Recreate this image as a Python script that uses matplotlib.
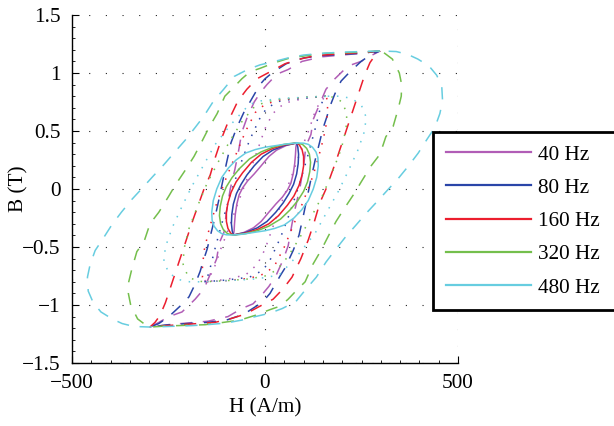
import matplotlib
matplotlib.use("Agg")
import matplotlib.pyplot as plt
from matplotlib.lines import Line2D
from matplotlib.ticker import MultipleLocator

plt.rcParams['font.family'] = ['Liberation Serif', 'DejaVu Serif']
plt.rcParams['axes.unicode_minus'] = True

labels = ["40 Hz", "80 Hz", "160 Hz", "320 Hz", "480 Hz"]
colors = ['#B15DB6', '#2A45A8', '#EC1E2E', '#74BF4C', '#67CDE0']

xticks = [-500, 0, 500]
xtick_labels = ["\u2212500", "0", "500"]
yticks = [-1.5, -1.0, -0.5, 0.0, 0.5, 1.0, 1.5]
ytick_labels = ["\u22121.5", "\u22121", "\u22120.5", "0", "0.5", "1", "1.5"]

# Descending branches (positive tip -> negative tip); the ascending branch
# is the point reflection of the descending one.

# Bmax = 0.4 T (solid)
h04_40 = [82, 55, 30, 10, -10, -28, -45, -58, -67, -73, -77, -79, -80, -82]
b04_40 = [0.397, 0.375, 0.335, 0.28, 0.2, 0.13, 0.07, 0.01, -0.05, -0.13, -0.22, -0.3, -0.36, -0.397]
h04_80 = [82, 50, 20, -5, -28, -47, -62, -74, -82, -86, -87, -85, -82]
b04_80 = [0.397, 0.375, 0.335, 0.28, 0.2, 0.12, 0.04, -0.04, -0.13, -0.22, -0.3, -0.36, -0.397]
h04_160 = [82, 50, 20, -10, -35, -58, -75, -88, -96, -100, -100, -96, -89, -82]
b04_160 = [0.397, 0.38, 0.35, 0.3, 0.23, 0.14, 0.06, -0.03, -0.12, -0.2, -0.28, -0.34, -0.38, -0.397]
h04_320 = [82, 50, 20, -10, -40, -65, -85, -100, -110, -116, -118, -115, -108, -97, -82]
b04_320 = [0.397, 0.385, 0.36, 0.32, 0.26, 0.18, 0.10, 0.02, -0.06, -0.15, -0.23, -0.3, -0.35, -0.385, -0.397]
h04_480 = [82, 60, 30, 0, -25, -50, -75, -95, -112, -125, -134, -138, -137, -132, -123, -112, -100, -82]
b04_480 = [0.397, 0.39, 0.375, 0.36, 0.34, 0.31, 0.25, 0.18, 0.10, 0.0, -0.1, -0.2, -0.27, -0.32, -0.36, -0.385, -0.395, -0.397]

# Bmax = 0.8 T (dotted)
h08_40 = [158, 100, 50, 20, 0, -20, -45, -70, -95, -115, -128, -142, -158]
b08_40 = [0.80, 0.78, 0.74, 0.65, 0.52, 0.33, 0.10, -0.12, -0.35, -0.52, -0.65, -0.75, -0.80]
h08_80 = [158, 100, 40, 5, -15, -40, -65, -90, -112, -130, -142, -150, -158]
b08_80 = [0.80, 0.785, 0.76, 0.70, 0.60, 0.42, 0.20, -0.05, -0.30, -0.52, -0.68, -0.77, -0.80]
h08_160 = [158, 100, 40, 0, -25, -50, -75, -100, -125, -145, -157, -162, -162, -158]
b08_160 = [0.80, 0.79, 0.77, 0.73, 0.66, 0.50, 0.30, 0.10, -0.12, -0.35, -0.52, -0.66, -0.76, -0.80]
h08_320 = [158, 100, 40, 0, -30, -60, -90, -120, -150, -175, -198, -210, -212, -200, -180, -158]
b08_320 = [0.80, 0.79, 0.775, 0.75, 0.70, 0.58, 0.42, 0.24, 0.05, -0.15, -0.35, -0.52, -0.65, -0.75, -0.79, -0.80]
h08_480 = [158, 100, 40, -10, -40, -60, -90, -130, -160, -190, -215, -240, -258, -262, -250, -225, -195, -158]
b08_480 = [0.80, 0.79, 0.78, 0.76, 0.73, 0.66, 0.55, 0.38, 0.20, 0.02, -0.15, -0.33, -0.50, -0.62, -0.72, -0.78, -0.80, -0.80]

# Bmax = 1.2 T (dashed)
h12_40 = [298, 250, 200, 148, 96, 60, 31, 5, -10, -28, -47, -60, -70, -78, -90, -100, -106, -119, -125, -140, -158, -181, -215, -249, -275, -298]
b12_40 = [1.19, 1.17, 1.155, 1.14, 1.10, 1.03, 0.99, 0.90, 0.84, 0.75, 0.61, 0.49, 0.30, 0.17, 0.0, -0.2, -0.37, -0.47, -0.6, -0.72, -0.86, -0.95, -1.06, -1.10, -1.15, -1.19]
h12_80 = [298, 250, 200, 150, 100, 55, 18, 0, -13, -39, -52, -73, -88, -100, -110, -120, -130, -142, -150, -160, -168, -181, -197, -220, -249, -275, -298]
b12_80 = [1.19, 1.17, 1.16, 1.15, 1.13, 1.08, 1.0, 0.95, 0.90, 0.75, 0.68, 0.53, 0.40, 0.22, 0.06, -0.10, -0.25, -0.41, -0.52, -0.62, -0.71, -0.82, -0.93, -1.01, -1.10, -1.16, -1.19]
h12_160 = [298, 265, 220, 174, 130, 91, 52, 13, -21, -47, -70, -93, -112, -128, -142, -158, -172, -186, -200, -214, -228, -242, -258, -272, -285, -298]
b12_160 = [1.19, 1.18, 1.17, 1.16, 1.15, 1.12, 1.08, 1.01, 0.95, 0.86, 0.76, 0.60, 0.44, 0.28, 0.12, 0.0, -0.13, -0.26, -0.4, -0.54, -0.68, -0.82, -0.98, -1.09, -1.15, -1.19]
h12_320 = [298, 250, 200, 155, 108, 65, 26, -13, -39, -60, -80, -104, -124, -145, -165, -184, -207, -233, -249, -275, -298, -313, -332, -345, -353, -354, -348, -330, -310, -298]
b12_320 = [1.19, 1.18, 1.175, 1.17, 1.15, 1.13, 1.09, 1.04, 1.01, 0.95, 0.88, 0.80, 0.65, 0.53, 0.40, 0.28, 0.16, 0.03, -0.06, -0.2, -0.3, -0.45, -0.54, -0.69, -0.8, -0.9, -1.0, -1.12, -1.17, -1.19]
h12_480 = [298, 250, 190, 150, 100, 60, 25, -13, -45, -80, -107, -133, -158, -181, -207, -236, -262, -290, -320, -345, -372, -397, -420, -440, -453, -460, -458, -445, -425, -396, -370, -340, -298]
b12_480 = [1.19, 1.185, 1.178, 1.17, 1.155, 1.13, 1.10, 1.07, 1.03, 0.97, 0.86, 0.76, 0.63, 0.53, 0.42, 0.31, 0.21, 0.11, 0.0, -0.09, -0.2, -0.31, -0.43, -0.53, -0.65, -0.76, -0.88, -0.98, -1.06, -1.12, -1.16, -1.185, -1.19]

solid = [(h04_40, b04_40), (h04_80, b04_80), (h04_160, b04_160), (h04_320, b04_320), (h04_480, b04_480)]
dotted = [(h08_40, b08_40), (h08_80, b08_80), (h08_160, b08_160), (h08_320, b08_320), (h08_480, b08_480)]
dashed = [(h12_40, b12_40), (h12_80, b12_80), (h12_160, b12_160), (h12_320, b12_320), (h12_480, b12_480)]


def full_loop(h, b):
    hh = list(h) + [-v for v in h[1:]]
    bb = list(b) + [-v for v in b[1:]]
    return hh, bb


fig = plt.figure(figsize=(6.14, 4.26), dpi=100)
ax = fig.add_axes([72 / 614, 63 / 426, 386 / 614, 348 / 426])

for group, ls in ((dashed, (0, (8, 7))), (dotted, (0, (1, 5))), (solid, '-')):
    for (h, b), c in zip(group, colors):
        hh, bb = full_loop(h, b)
        ax.plot(hh, bb, color=c, lw=1.1, linestyle=ls)

ax.set_xlim(-500, 500)
ax.set_ylim(-1.5, 1.5)
ax.set_xticks(xticks, labels=xtick_labels)
ax.set_yticks(yticks, labels=ytick_labels)
ax.xaxis.set_minor_locator(MultipleLocator(50))
ax.yaxis.set_minor_locator(MultipleLocator(0.1))
ax.tick_params(which='major', direction='in', length=5, width=0.8, labelsize=15.3, pad=8)
ax.tick_params(which='minor', direction='in', length=2.5, width=0.6)
ax.tick_params(top=False, right=False)
ax.spines['top'].set_visible(False)
ax.spines['right'].set_visible(False)
ax.spines['left'].set_linewidth(1.0)
ax.spines['bottom'].set_linewidth(1.0)
ax.grid(True, which='major', color='#222222', linestyle=(0, (1, 14)), linewidth=0.8)

ax.set_xlabel("H (A/m)", fontsize=15.3, labelpad=4)
ax.set_ylabel("B (T)", fontsize=15.3)
ax.yaxis.set_label_coords(-44 / 386, 0.5)

handles = [Line2D([], [], color=c, lw=1.6) for c in colors]
leg = ax.legend(handles, labels, loc='upper left',
                bbox_to_anchor=(433 / 614, 1 - 132 / 426, 220 / 614, 0.0),
                bbox_transform=fig.transFigure, mode='expand', borderaxespad=0,
                fontsize=15.3, frameon=True, fancybox=False, framealpha=1,
                edgecolor='black', borderpad=0.6, labelspacing=0.63,
                handlelength=4.0, handletextpad=0.35)
leg.get_frame().set_linewidth(2.0)

fig.savefig("out.png", dpi=100)
